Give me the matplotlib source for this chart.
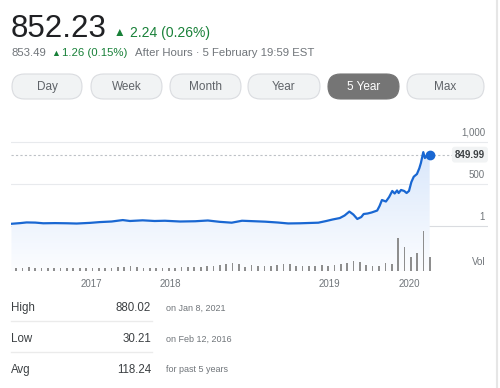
import numpy as np
import matplotlib
matplotlib.use("Agg")
import matplotlib.pyplot as plt
from matplotlib.patches import FancyBboxPatch
from matplotlib.colors import LinearSegmentedColormap

plt.rcParams['font.family'] = ['Liberation Sans', 'DejaVu Sans']

# price history, x in years from Feb 2016
t = [0.0, 0.11, 0.19, 0.30, 0.40, 0.55, 0.70, 0.82, 0.99, 1.11, 1.26, 1.40, 1.49,
     1.65, 1.80, 1.93, 2.12, 2.31, 2.47, 2.62, 2.77, 2.90, 3.06, 3.19, 3.35, 3.48,
     3.63, 3.86, 3.96, 4.04, 4.13, 4.19, 4.25, 4.30, 4.35, 4.40, 4.43, 4.48, 4.53,
     4.60, 4.63, 4.66, 4.71, 4.75, 4.79, 4.82, 4.85, 4.87, 4.90, 4.94, 4.97, 5.00,
     5.03, 5.06, 5.10, 5.13, 5.15, 5.18, 5.20, 5.23, 5.26]
price = [30, 38, 46, 44, 36, 38, 36, 33, 41, 50, 57, 74, 63,
         71, 63, 66, 57, 60, 69, 53, 43, 66, 60, 55, 45, 34,
         36, 43, 63, 81, 98, 128, 175, 140, 87, 110, 146, 152, 164,
         187, 241, 312, 294, 347, 419, 389, 425, 395, 431, 419, 395, 419,
         525, 588, 620, 688, 751, 880, 810, 846, 849.99]
last_price = "849.99"

# monthly volume (relative)
vol = [3, 3, 3.5, 3, 2.5, 3, 2.5, 2.5, 2.5, 2.5, 2.5, 2.5, 3, 3, 3, 3, 3.5, 3.5, 4.5, 4,
       3, 3, 3, 3, 2.5, 3, 3.5, 3.5, 3.5, 4, 4.5, 5, 5.5, 6.5, 7.5, 7, 3.5, 5.5, 5, 4.5,
       5, 6, 7, 7, 5, 4.5, 5, 5, 6, 5, 5.5, 6.5, 8, 10, 9, 6,
       5, 5, 8, 7, 33, 24, 14, 18, 40, 14]
vol_t = np.linspace(0.057, 5.264, len(vol))

year_ticks = [1.0, 2.0, 4.0, 5.0]
year_labels = ['2017', '2018', '2019', '2020']
grid_vals = [1, 500, 1000]
grid_labels = ['1', '500', '1,000']

ranges = ['Day', 'Week', 'Month', 'Year', '5 Year', 'Max']
active_range = '5 Year'

stat_names = ['High', 'Low', 'Avg']
stat_vals = ['880.02', '30.21', '118.24']
stat_notes = ['on Jan 8, 2021', 'on Feb 12, 2016', 'for past 5 years']

GREEN = '#188038'
GRAY = '#70757a'
BLUE = '#1967d2'

fig = plt.figure(figsize=(5, 3.88), dpi=100)
fig.patch.set_facecolor('white')

# pixel overlay for header, buttons and stats
bg = fig.add_axes([0, 0, 1, 1])
bg.set_xlim(0, 500)
bg.set_ylim(388, 0)
bg.axis('off')

bg.text(11, 37, '852.23', fontsize=22.5, color='#202124', va='baseline')
bg.text(114, 36, '▲', fontsize=8.5, color=GREEN, va='baseline')
bg.text(130, 37, '2.24 (0.26%)', fontsize=10, color=GREEN, va='baseline')
bg.text(11, 56, '853.49', fontsize=8.2, color=GRAY, va='baseline')
bg.text(51, 55.5, '▲', fontsize=6.5, color=GREEN, va='baseline')
bg.text(62, 56, '1.26 (0.15%)', fontsize=8.2, color=GREEN, va='baseline')
bg.text(135, 56, 'After Hours · 5 February 19:59 EST', fontsize=8.2, color=GRAY,
        va='baseline')

btn_left = [12, 91, 170, 248, 328, 407]
btn_w = [70, 71, 71, 72, 71, 77]
for name, x0, w in zip(ranges, btn_left, btn_w):
    on = name == active_range
    bg.add_patch(FancyBboxPatch((x0, 74), w, 25,
                                boxstyle='round,pad=0,rounding_size=12.5',
                                facecolor='#757575' if on else '#f1f3f4',
                                edgecolor='#757575' if on else '#dadce0',
                                linewidth=0.8))
    bg.text(x0 + w / 2, 87, name, fontsize=8.5, ha='center', va='center',
            color='white' if on else '#5f6368')

for i, (n, v, note) in enumerate(zip(stat_names, stat_vals, stat_notes)):
    y = 308 + i * 31
    bg.text(11, y, n, fontsize=8.3, color='#3c4043', va='center')
    bg.text(151, y, v, fontsize=8.3, color='#3c4043', va='center', ha='right')
    bg.text(166, y, note, fontsize=6.5, color=GRAY, va='center')
    if i < 2:
        bg.plot([11, 152], [y + 13, y + 13], color='#ebebeb', lw=1)

bg.plot([497, 497], [0, 388], color='#e6e6e6', lw=1.5)

# price chart
ax = fig.add_axes([0.022, 0.30155, 0.954, 0.36856])
ax.set_facecolor('none')
ylo, yhi = -530, 1166
ax.set_xlim(-0.006, 5.994)
ax.set_ylim(ylo, yhi)
for s in ax.spines.values():
    s.set_visible(False)

for v, lab in zip(grid_vals, grid_labels):
    ax.axhline(v, color='#dadce0' if v == 1 else '#e8eaed', lw=0.8, zorder=0)
    ax.annotate(lab, (5.956, v), xytext=(0, 3), textcoords='offset points',
                ha='right', va='bottom', fontsize=7, color=GRAY)

cmap = LinearSegmentedColormap.from_list('fade', ['#fcfdff', '#d9e7fb'])
grad = np.linspace(0, 1, 256).reshape(-1, 1)
poly = ax.fill_between(t, price, ylo, color='none', lw=0)
im = ax.imshow(grad, extent=[t[0], t[-1], ylo, 900], aspect='auto', cmap=cmap,
               origin='lower', zorder=1)
im.set_clip_path(poly.get_paths()[0], transform=ax.transData)

ax.axhline(price[-1], xmax=(452 - 11) / 477, color='#bdc1c6', lw=0.8,
           ls=(0, (2, 2)), zorder=1)
ax.plot(t, price, color=BLUE, lw=1.6, zorder=3, solid_joinstyle='round')
ax.plot(t[-1], price[-1], 'o', color=BLUE, ms=6, zorder=4)
ax.annotate(last_price, (5.956, price[-1]), ha='right', va='center', fontsize=7,
            fontweight='bold', color='#3c4043',
            bbox=dict(boxstyle='round,pad=0.3', fc='#f1f3f4', ec='none'))

ax.set_xticks(year_ticks, year_labels)
ax.tick_params(axis='x', length=0, labelsize=7, labelcolor=GRAY, pad=6)
ax.set_yticks([])

# volume
vax = fig.add_axes([0.022, 0.30155, 0.954, 0.1134])
vax.set_facecolor('none')
vax.set_xlim(-0.006, 5.994)
vax.set_ylim(0, 44)
vax.bar(vol_t, vol, width=0.021, color='#8e8e8e', zorder=2)
vax.text(5.956, 4, 'Vol', ha='right', va='bottom', fontsize=7, color=GRAY)
vax.axis('off')

fig.savefig('out.png', dpi=100)
